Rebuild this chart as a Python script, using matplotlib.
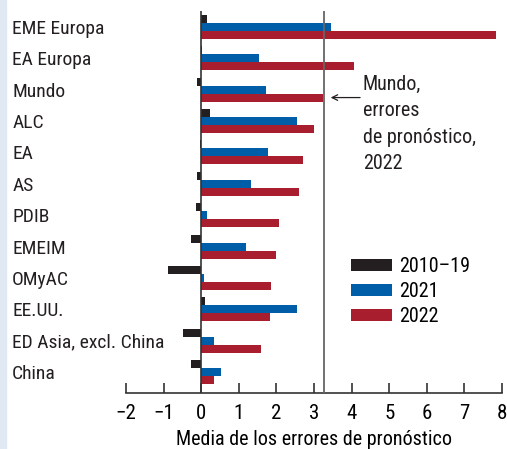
import matplotlib.pyplot as plt
import matplotlib.patches as mpatches
import numpy as np

plt.rcParams["font.family"] = ["Roboto Condensed", "DejaVu Sans"]

categories = ["EME Europa", "EA Europa", "Mundo", "ALC", "EA", "AS", "PDIB",
              "EMEIM", "OMyAC", "EE.UU.", "ED Asia, excl. China", "China"]
err_2010_19 = [0.15, 0.02, -0.10, 0.23, -0.03, -0.10, -0.13, -0.27, -0.87, 0.09, -0.48, -0.27]
err_2021 = [3.45, 1.54, 1.72, 2.55, 1.78, 1.32, 0.15, 1.19, 0.07, 2.55, 0.33, 0.53]
err_2022 = [7.84, 4.06, 3.25, 2.99, 2.71, 2.60, 2.07, 1.99, 1.86, 1.83, 1.59, 0.33]
world_2022 = 3.27

series = [("2010\u201319", err_2010_19, "#231f20"),
          ("2021", err_2021, "#005ea8"),
          ("2022", err_2022, "#a81e2e")]

fig = plt.figure(figsize=(5.07, 4.49), dpi=100)
fig.patches.append(mpatches.Rectangle((0, 0), 6 / 507, 1, transform=fig.transFigure,
                                      color="#dfe8f3", zorder=0))
ax = fig.add_axes([126 / 507, 56 / 449, 376 / 507, 382 / 449])

y = np.arange(len(categories))
h = 0.255
for k, (name, vals, col) in enumerate(series):
    ax.barh(y + (k - 1) * h, vals, height=h, color=col, label=name, zorder=2)

ax.axvline(0, color="#333333", lw=1.2, zorder=3)
ax.axvline(world_2022, color="#666666", lw=1.3, zorder=3)

ax.set_xlim(-2, 8)
ax.set_ylim(len(categories) - 1 + 0.67, -0.51)
ax.set_xticks(range(-2, 9))
ax.set_xticklabels([str(v).replace("-", "\u2212") for v in range(-2, 9)], fontsize=15)
ax.tick_params(axis="x", direction="in", length=7, width=1.2, color="#333333", pad=8)
ax.set_yticks(y)
ax.set_yticklabels(categories, fontsize=14, ha="left", color="#231f20")
ax.tick_params(axis="y", length=0, pad=82)
for s in ("top", "right", "left"):
    ax.spines[s].set_visible(False)
ax.spines["bottom"].set_linewidth(1.2)
ax.spines["bottom"].set_color("#333333")
ax.set_xlabel("Media de los errores de pron\u00f3stico", fontsize=14.5, labelpad=5)

ax.annotate("", xy=(world_2022 + 0.1, 2.25), xytext=(4.3, 2.25),
            arrowprops=dict(arrowstyle="->", color="#231f20", lw=0.9))
ax.text(4.3, 1.52, "Mundo,\nerrores\nde pron\u00f3stico,\n2022", fontsize=14.5,
        va="top", ha="left", linespacing=1.5, color="#231f20")

ax.legend(loc="upper left", bbox_to_anchor=(0.578, 0.377), frameon=False,
          fontsize=14.5, handlelength=2.0, handleheight=0.5, handletextpad=0.35,
          labelspacing=0.3, borderaxespad=0)

fig.savefig("out.png", dpi=100)
